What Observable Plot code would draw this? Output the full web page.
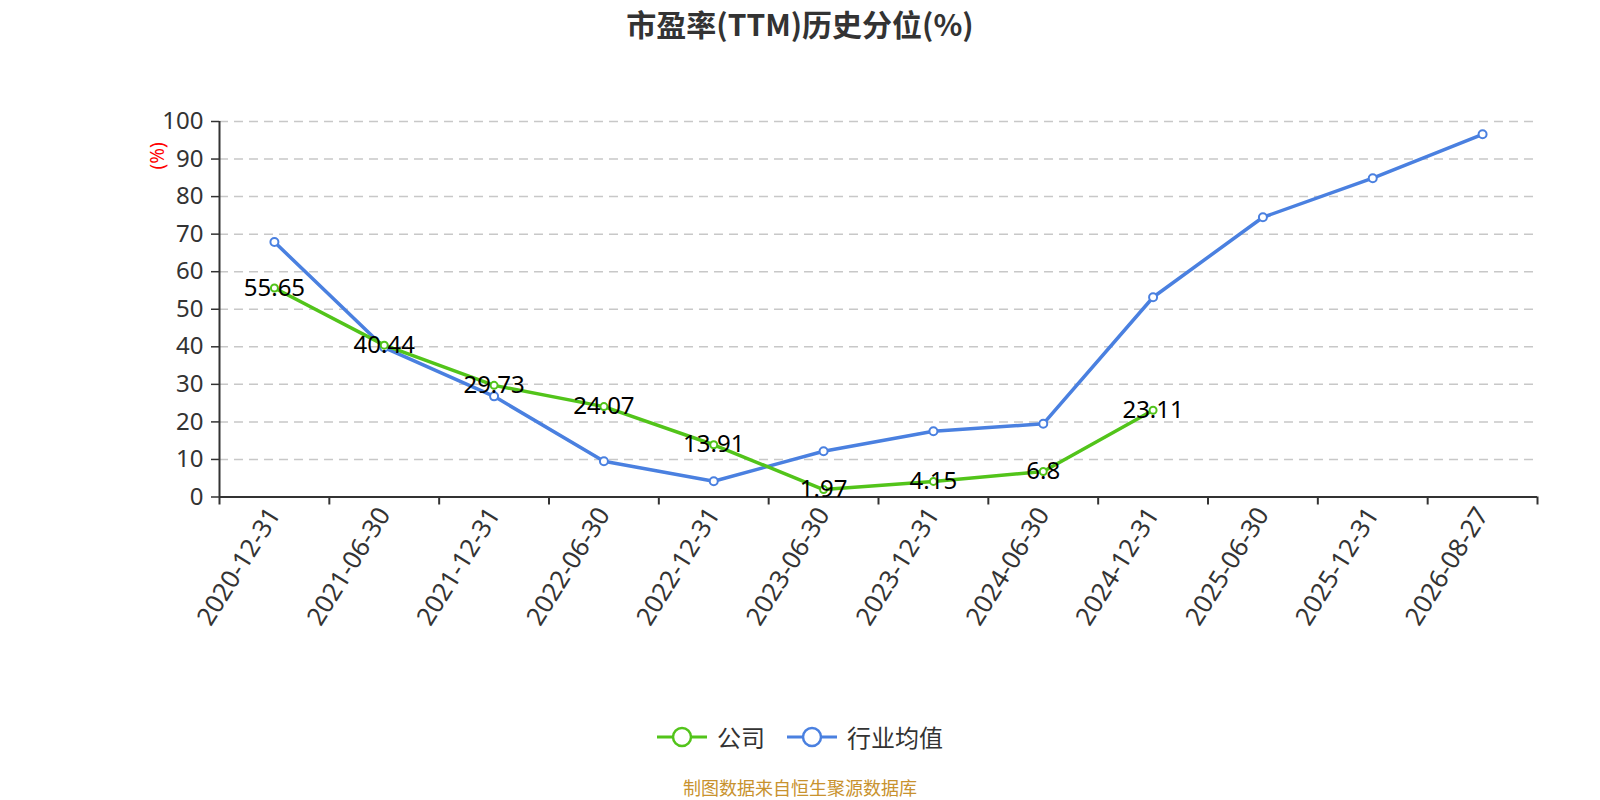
<!DOCTYPE html>
<html>
<head>
<meta charset="utf-8">
<script src="https://cdn.jsdelivr.net/npm/d3@7"></script>
<script src="https://cdn.jsdelivr.net/npm/@observablehq/plot@0.6"></script>
<style>
  html, body { margin: 0; padding: 0; background: #fff; }
  #wrap { position: relative; width: 1600px; height: 800px; overflow: hidden;
          font-family: "Noto Sans", "Noto Sans CJK SC", sans-serif; }
  #title { position: absolute; top: 4px; left: 0; width: 1600px; text-align: center;
           font-size: 30px; font-weight: bold; color: #333; line-height: 38px;
           font-family: "Noto Sans CJK SC", "Noto Sans", sans-serif; }
  #chart { position: absolute; top: 0; left: 0; }
  #legend { position: absolute; top: 722px; left: 0; width: 1600px; display: flex;
            justify-content: center; align-items: center; font-size: 24px; color: #333;
            line-height: 30px; font-family: "Noto Sans CJK SC", sans-serif; }
  .item { display: flex; align-items: center; margin: 0 11px; }
  .item svg { margin-right: 10px; }
  #caption { position: absolute; top: 777px; left: 0; width: 1600px; text-align: center;
             font-size: 18px; line-height: 21px; color: #c8922e; font-family: "Noto Sans CJK SC", sans-serif; }
</style>
</head>
<body>
<div id="wrap">
  <div id="title">市盈率(TTM)历史分位(%)</div>
  <div id="chart"></div>
  <div id="legend"></div>
  <div id="caption">制图数据来自恒生聚源数据库</div>
</div>
<script>
const dates = ["2020-12-31","2021-06-30","2021-12-31","2022-06-30","2022-12-31","2023-06-30",
               "2023-12-31","2024-06-30","2024-12-31","2025-06-30","2025-12-31","2026-08-27"];
const companyValues = [55.65, 40.44, 29.73, 24.07, 13.91, 1.97, 4.15, 6.8, 23.11];
const industryValues = [67.9, 39.8, 26.8, 9.5, 4.2, 12.2, 17.5, 19.5, 53.2, 74.5, 84.9, 96.6];
const yTicks = [0, 10, 20, 30, 40, 50, 60, 70, 80, 90, 100];
const seriesNames = ["公司", "行业均值"];
const colors = ["#52c41a", "#4a80e0"];

const company = companyValues.map((v, i) => ({i, date: dates[i], v}));
const industry = industryValues.map((v, i) => ({i, date: dates[i], v}));
const centers = dates.map((d, i) => i);
const bounds = d3.range(dates.length + 1).map(i => i - 0.5);

const chart = Plot.plot({
  width: 1600,
  height: 800,
  marginLeft: 219,
  marginRight: 63,
  marginTop: 121,
  marginBottom: 303.5,
  style: {fontFamily: "'Noto Sans', 'Noto Sans CJK SC', sans-serif", background: "transparent"},
  x: {type: "linear", domain: [-0.5, dates.length - 0.5]},
  y: {domain: [0, 100]},
  marks: [
    Plot.gridY(yTicks.filter(t => t > 0), {stroke: "#c8c8c8", strokeOpacity: 1, strokeWidth: 1.5, strokeDasharray: "9,6"}),
    Plot.axisY({ticks: yTicks, tickSize: 8, tickPadding: 8, fontSize: 24, color: "#333", stroke: "#333", strokeWidth: 1.5, label: null}),
    Plot.axisX({ticks: bounds, tickSize: 8, tickFormat: () => "", stroke: "#333", strokeWidth: 2, label: null}),
    Plot.axisX({ticks: centers, tickSize: 0, tickPadding: 13, tickRotate: -58, fontSize: 25.5, color: "#333",
                tickFormat: i => dates[i], label: null}),
    Plot.ruleX([-0.5], {stroke: "#333", strokeWidth: 2}),
    Plot.ruleY([0], {stroke: "#333", strokeWidth: 2}),
    Plot.line(industry, {x: "i", y: "v", stroke: colors[1], strokeWidth: 3.5}),
    Plot.line(company, {x: "i", y: "v", stroke: colors[0], strokeWidth: 3.5}),
    Plot.dot(industry, {x: "i", y: "v", r: 4, fill: "#fff", stroke: colors[1], strokeWidth: 2}),
    Plot.dot(company, {x: "i", y: "v", r: 3.5, fill: "#fff", stroke: colors[0], strokeWidth: 2}),
    Plot.text(company, {x: "i", y: "v", text: d => String(d.v), fill: "#000", fontSize: 24, lineAnchor: "middle", textAnchor: "middle"}),
    Plot.text(["(%)"], {frameAnchor: "top-left", dx: -69, dy: 48, rotate: -90, fill: "red", fontSize: 19, text: d => d})
  ]
});
document.getElementById("chart").appendChild(chart);

const legend = document.getElementById("legend");
seriesNames.forEach((name, k) => {
  const item = document.createElement("div");
  item.className = "item";
  item.innerHTML = `<svg width="50" height="24"><line x1="0" y1="12" x2="50" y2="12" stroke="${colors[k]}" stroke-width="3"/><circle cx="25" cy="12" r="9" fill="#fff" stroke="${colors[k]}" stroke-width="2.5"/></svg><span>${name}</span>`;
  legend.appendChild(item);
});
</script>
</body>
</html>
